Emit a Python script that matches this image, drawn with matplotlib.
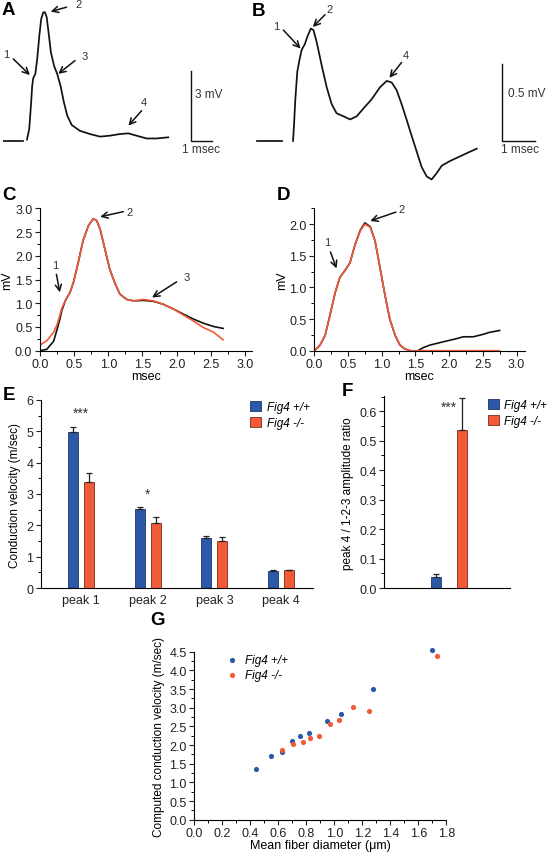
import numpy as np
import matplotlib
matplotlib.use("Agg")
import matplotlib.pyplot as plt
from matplotlib.patches import Patch
from matplotlib.ticker import MultipleLocator

plt.rcParams["font.family"] = ["Liberation Sans", "DejaVu Sans"]
plt.rcParams["font.size"] = 8

BLUE = "#2b59a8"
RED = "#f25a38"
TXT = "#333333"

# --- A: compound action potential, Fig4 +/+ (msec, mV)
a_t = [0.00, 0.11, 0.19, 0.25, 0.30, 0.40, 0.49, 0.59, 0.68, 0.78, 0.86, 0.94,
       1.03, 1.14, 1.29, 1.44, 1.60, 1.76, 1.92, 2.13, 2.52, 3.00, 3.48, 3.95,
       4.43, 4.83, 5.22, 5.70, 6.17, 6.73]
a_v = [0.06, 0.52, 1.52, 2.37, 2.70, 2.88, 3.52, 4.52, 5.24, 5.52, 5.52, 5.31,
       4.66, 3.81, 3.23, 2.88, 2.37, 1.66, 1.09, 0.69, 0.44, 0.30, 0.19, 0.23,
       0.30, 0.33, 0.23, 0.11, 0.11, 0.16]
a_base_t = [-1.14, -0.19]

# --- B: compound action potential, Fig4 -/- (msec, mV)
b_t = [0.00, 0.03, 0.07, 0.13, 0.19, 0.26, 0.36, 0.44, 0.54, 0.62, 0.72, 0.87,
       1.02, 1.17, 1.32, 1.53, 1.73, 1.93, 2.13, 2.38, 2.64, 2.84, 2.99, 3.14,
       3.29, 3.44, 3.60, 3.75, 3.90, 4.05, 4.20, 4.35, 4.51, 4.76, 5.06, 5.36,
       5.57]
b_v = [0.00, 0.10, 0.27, 0.45, 0.52, 0.59, 0.63, 0.68, 0.73, 0.72, 0.64, 0.49,
       0.35, 0.24, 0.18, 0.16, 0.14, 0.16, 0.21, 0.27, 0.35, 0.39, 0.38, 0.33,
       0.24, 0.14, 0.03, -0.07, -0.17, -0.23, -0.25, -0.21, -0.16, -0.13, -0.10,
       -0.07, -0.05]
b_base_t = [-1.09, -0.33]

# --- C: recorded (black) and fitted (red) traces, Fig4 +/+
c_t = [0.00, 0.10, 0.20, 0.25, 0.29, 0.32, 0.37, 0.44, 0.49, 0.56, 0.63, 0.71,
       0.78, 0.83, 0.88, 0.95, 1.02, 1.10, 1.17, 1.27, 1.37, 1.51, 1.66, 1.80,
       1.95, 2.10, 2.24, 2.39, 2.54, 2.68]
c_rec = [0.00, 0.03, 0.20, 0.45, 0.66, 0.85, 1.05, 1.23, 1.44, 1.86, 2.32, 2.64,
         2.78, 2.74, 2.56, 2.14, 1.72, 1.41, 1.19, 1.08, 1.05, 1.06, 1.04, 0.98,
         0.88, 0.77, 0.67, 0.58, 0.51, 0.47]
c_fit = [0.12, 0.21, 0.39, 0.55, 0.74, 0.90, 1.05, 1.23, 1.44, 1.86, 2.32, 2.64,
         2.78, 2.74, 2.56, 2.14, 1.72, 1.41, 1.19, 1.08, 1.05, 1.08, 1.05, 0.98,
         0.88, 0.75, 0.63, 0.49, 0.39, 0.23]

# --- D: recorded (black) and fitted (red) traces, Fig4 -/-
d_t = [0.00, 0.08, 0.16, 0.23, 0.31, 0.38, 0.45, 0.53, 0.60, 0.68, 0.75, 0.83,
       0.90, 0.97, 1.05, 1.12, 1.20, 1.27, 1.34, 1.42, 1.52, 1.62, 1.72, 1.91,
       2.11, 2.21, 2.36, 2.51, 2.60, 2.75]
d_rec = [0.00, 0.08, 0.24, 0.55, 0.92, 1.16, 1.26, 1.39, 1.66, 1.90, 2.02, 1.96,
         1.74, 1.34, 0.87, 0.50, 0.24, 0.09, 0.03, 0.00, -0.01, 0.05, 0.09, 0.14,
         0.19, 0.22, 0.22, 0.26, 0.29, 0.32]
d_fit = [0.00, 0.08, 0.24, 0.55, 0.92, 1.16, 1.26, 1.39, 1.66, 1.89, 2.00, 1.95,
         1.74, 1.34, 0.87, 0.50, 0.24, 0.09, 0.03, 0.00, 0.00, 0.00, 0.00, 0.00,
         0.00, 0.00, 0.00, 0.00, 0.00, 0.00]

# --- E: conduction velocity per peak
peaks = ["peak 1", "peak 2", "peak 3", "peak 4"]
e_wt = [4.97, 2.52, 1.61, 0.55]
e_wt_err = [0.18, 0.05, 0.05, 0.03]
e_ko = [3.39, 2.07, 1.51, 0.56]
e_ko_err = [0.27, 0.20, 0.12, 0.03]
e_stars = ["***", "*", "", ""]

# --- F: peak 4 / 1-2-3 amplitude ratio
f_vals = [0.038, 0.538]
f_err = [0.008, 0.106]

# --- G: computed conduction velocity vs mean fiber diameter
g_wt_x = [0.44, 0.545, 0.624, 0.695, 0.755, 0.82, 0.945, 1.048, 1.274, 1.696]
g_wt_y = [1.36, 1.70, 1.82, 2.10, 2.23, 2.33, 2.65, 2.84, 3.51, 4.55]
g_ko_x = [0.624, 0.707, 0.774, 0.826, 0.893, 0.971, 1.033, 1.136, 1.248, 1.736]
g_ko_y = [1.86, 2.02, 2.09, 2.18, 2.25, 2.57, 2.67, 3.01, 2.90, 4.38]

W, H = 551, 853
fig = plt.figure(figsize=(W / 100, H / 100), dpi=100)


def px_axes(x0, y0, x1, y1):
    # axes from pixel box (top-left origin)
    return fig.add_axes([x0 / W, 1 - y1 / H, (x1 - x0) / W, (y1 - y0) / H])


def arrow(ax, head, tail, label, lpos):
    ax.annotate("", xy=head, xytext=tail,
                arrowprops=dict(arrowstyle="->", color="#111111", lw=1.1,
                                shrinkA=0, shrinkB=0, mutation_scale=11))
    ax.text(lpos[0], lpos[1], label, fontsize=8, color=TXT,
            ha="center", va="center")


def style_axes(ax):
    for s in ["top", "right"]:
        ax.spines[s].set_visible(False)
    ax.tick_params(direction="out", length=3.5, width=0.8, labelsize=9,
                   colors="#222222", pad=2)
    ax.tick_params(which="minor", direction="out", length=2, width=0.7)


# ---------------- A
ax = px_axes(3, 0, 230, 160)
ax.plot(a_t, a_v, color="#111111", lw=1.25)
ax.plot(a_base_t, [0, 0], color="#111111", lw=1.25)
ax.plot([7.81, 7.81, 8.81], [3, 0, 0], color="#111111", lw=1.0)
ax.text(8.0, 2.0, "3 mV", fontsize=8.5, color=TXT, va="center")
ax.text(8.31, -0.34, "1 msec", fontsize=8.5, color=TXT, ha="center", va="center")
arrow(ax, (0.14, 2.83), (-0.65, 3.52), "1", (-1.0, 3.75))
arrow(ax, (1.13, 5.55), (1.89, 5.74), "2", (2.48, 5.88))
arrow(ax, (1.49, 2.88), (2.29, 3.45), "3", (2.76, 3.66))
arrow(ax, (4.83, 0.66), (5.46, 1.30), "4", (5.57, 1.66))
ax.set_xlim(-1.14, 9.67)
ax.set_ylim(-0.77, 6.09)
ax.axis("off")

# ---------------- B
ax = px_axes(250, 0, 545, 190)
ax.plot(b_t, b_v, color="#111111", lw=1.25)
ax.plot(b_base_t, [0, 0], color="#111111", lw=1.25)
ax.plot([6.33, 6.33, 7.33], [0.5, 0, 0], color="#111111", lw=1.0)
ax.text(6.52, 0.31, "0.5 mV", fontsize=8.5, color=TXT, va="center")
ax.text(6.88, -0.052, "1 msec", fontsize=8.5, color=TXT, ha="center", va="center")
arrow(ax, (0.23, 0.60), (-0.29, 0.72), "1", (-0.52, 0.745))
arrow(ax, (0.60, 0.74), (0.97, 0.82), "2", (1.10, 0.86))
arrow(ax, (2.92, 0.41), (3.29, 0.51), "4", (3.41, 0.56))
ax.set_xlim(-1.303, 7.636)
ax.set_ylim(-0.312, 0.922)
ax.axis("off")

# ---------------- C
ax = px_axes(40, 209.3, 251.8, 351.7)
ax.plot(c_t, c_rec, color="#111111", lw=1.2)
ax.plot(c_t, c_fit, color=RED, lw=1.2)
ax.set_xlim(0, 3.1)
ax.set_ylim(0, 3.0)
ax.xaxis.set_major_locator(MultipleLocator(0.5))
ax.xaxis.set_minor_locator(MultipleLocator(0.25))
ax.yaxis.set_major_locator(MultipleLocator(0.5))
ax.yaxis.set_minor_locator(MultipleLocator(0.25))
ax.xaxis.set_major_formatter("{x:.1f}")
ax.yaxis.set_major_formatter("{x:.1f}")
style_axes(ax)
ax.set_xlabel("msec", fontsize=9, labelpad=0)
ax.set_ylabel("mV", fontsize=9, labelpad=1)
arrow(ax, (0.29, 1.23), (0.24, 1.61), "1", (0.22, 1.80))
arrow(ax, (0.88, 2.82), (1.22, 2.93), "2", (1.31, 2.93))
arrow(ax, (1.64, 1.12), (2.0, 1.45), "3", (2.15, 1.56))

# ---------------- D
ax = px_axes(314.3, 209.3, 524.6, 351.7)
ax.plot(d_t, d_rec, color="#111111", lw=1.2)
ax.plot(d_t, d_fit, color=RED, lw=1.2)
ax.set_xlim(0, 3.12)
ax.set_ylim(0, 2.25)
ax.xaxis.set_major_locator(MultipleLocator(0.5))
ax.xaxis.set_minor_locator(MultipleLocator(0.25))
ax.yaxis.set_major_locator(MultipleLocator(0.5))
ax.yaxis.set_minor_locator(MultipleLocator(0.25))
ax.xaxis.set_major_formatter("{x:.1f}")
ax.yaxis.set_major_formatter("{x:.1f}")
style_axes(ax)
ax.set_xlabel("msec", fontsize=9, labelpad=0)
ax.set_ylabel("mV", fontsize=9, labelpad=1)
arrow(ax, (0.33, 1.30), (0.24, 1.56), "1", (0.19, 1.72))
arrow(ax, (0.83, 2.05), (1.21, 2.19), "2", (1.30, 2.24))

# ---------------- E
ax = px_axes(41, 401, 313, 589)
x = np.arange(len(peaks))
off, bw = 0.12, 0.15
ax.bar(x - off, e_wt, bw, color=BLUE, edgecolor="#1d3566", lw=0.6,
       yerr=[np.zeros(4), e_wt_err], capsize=2.2,
       error_kw=dict(ecolor="#222222", elinewidth=0.9, capthick=0.9))
ax.bar(x + off, e_ko, bw, color=RED, edgecolor="#7a2a1a", lw=0.6,
       yerr=[np.zeros(4), e_ko_err], capsize=2.2,
       error_kw=dict(ecolor="#222222", elinewidth=0.9, capthick=0.9))
for i, s in enumerate(e_stars):
    if s:
        top = max(e_wt[i] + e_wt_err[i], e_ko[i] + e_ko_err[i])
        ax.text(x[i], top + 0.45, s, ha="center", va="center", fontsize=10,
                color=TXT)
ax.set_xlim(-0.6, 3.48)
ax.set_ylim(0, 6)
ax.set_xticks(x)
ax.set_xticklabels(peaks)
ax.yaxis.set_major_locator(MultipleLocator(1))
ax.yaxis.set_minor_locator(MultipleLocator(0.5))
style_axes(ax)
ax.tick_params(axis="x", length=0, pad=4)
ax.set_ylabel("Conduction velocity (m/sec)", fontsize=8.5, labelpad=4)
handles = [Patch(facecolor=BLUE, edgecolor="#1d3566", lw=0.6),
           Patch(facecolor=RED, edgecolor="#7a2a1a", lw=0.6)]
ax.legend(handles, ["Fig4 +/+", "Fig4 -/-"], loc="upper left",
          bbox_to_anchor=(0.73, 1.05), frameon=False, handlelength=0.9,
          handleheight=0.9, handletextpad=0.5, labelspacing=0.3,
          prop=dict(style="italic", size=8.5))

# ---------------- F
ax = px_axes(384.3, 397.3, 510, 589)
fx = np.arange(2)
ax.bar(fx, f_vals, 0.385, color=[BLUE, RED], edgecolor=["#1d3566", "#7a2a1a"],
       lw=0.6, yerr=[np.zeros(2), f_err], capsize=2.2,
       error_kw=dict(ecolor="#222222", elinewidth=0.9, capthick=0.9))
ax.text(0.5, 0.617, "***", ha="center", va="center", fontsize=10, color=TXT)
ax.set_xlim(-1.98, 2.86)
ax.set_ylim(0, 0.651)
ax.set_xticks([])
ax.yaxis.set_major_locator(MultipleLocator(0.1))
ax.yaxis.set_minor_locator(MultipleLocator(0.05))
ax.yaxis.set_major_formatter("{x:.1f}")
style_axes(ax)
ax.set_ylabel("peak 4 / 1-2-3 amplitude ratio", fontsize=8.5, labelpad=4)
ax.legend(handles, ["Fig4 +/+", "Fig4 -/-"], loc="upper left",
          bbox_to_anchor=(0.74, 1.04), frameon=False, handlelength=0.9,
          handleheight=0.9, handletextpad=0.5, labelspacing=0.3,
          prop=dict(style="italic", size=8.5))

# ---------------- G
ax = px_axes(194.3, 652.7, 446.3, 820.7)
ax.scatter(g_wt_x, g_wt_y, s=14, color=BLUE, lw=0, label="Fig4 +/+",
           zorder=3, clip_on=False)
ax.scatter(g_ko_x, g_ko_y, s=14, color=RED, lw=0, label="Fig4 -/-",
           zorder=3, clip_on=False)
ax.set_xlim(0, 1.8)
ax.set_ylim(0, 4.5)
ax.xaxis.set_major_locator(MultipleLocator(0.2))
ax.xaxis.set_minor_locator(MultipleLocator(0.1))
ax.yaxis.set_major_locator(MultipleLocator(0.5))
ax.yaxis.set_minor_locator(MultipleLocator(0.25))
ax.xaxis.set_major_formatter("{x:.1f}")
ax.yaxis.set_major_formatter("{x:.1f}")
style_axes(ax)
ax.tick_params(axis="x", pad=1.5)
ax.set_xlabel("Mean fiber diameter (\u03bcm)", fontsize=9, labelpad=0)
ax.set_ylabel("Computed conduction velocity (m/sec)", fontsize=8.5, labelpad=3)
ax.legend(loc="upper left", bbox_to_anchor=(0.06, 1.05), frameon=False,
          handletextpad=0.1, labelspacing=0.25, markerscale=1.0,
          prop=dict(style="italic", size=8.5))

# panel letters
for lab, (px, py) in {"A": (2, 2), "B": (252, 3), "C": (2, 187), "D": (277, 187),
                      "E": (3, 387), "F": (342, 383), "G": (150, 612)}.items():
    fig.text(px / W, 1 - py / H, lab, fontsize=13.5, fontweight="bold",
             ha="left", va="top")

fig.savefig("out.png", dpi=100)
